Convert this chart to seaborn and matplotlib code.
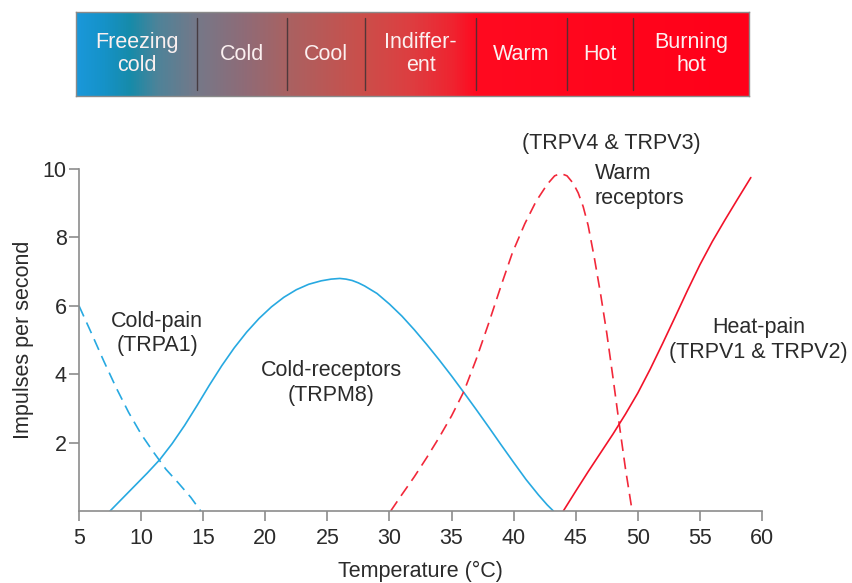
import numpy as np
import pandas as pd
import matplotlib
matplotlib.use("Agg")
import matplotlib.pyplot as plt
from matplotlib.colors import LinearSegmentedColormap
import seaborn as sns

# Thermal sensation bands shown in the strip above the plot
band_labels = ["Freezing\ncold", "Cold", "Cool", "Indiffer-\nent", "Warm", "Hot", "Burning\nhot"]
band_edges = [0.0, 0.18, 0.313, 0.43, 0.594, 0.73, 0.828, 1.0]

# Receptor firing rates (impulses per second) against skin temperature (°C)
cold_pain_temp = [5.0, 6.0, 7.0, 8.0, 9.0, 10.0, 11.0, 12.0, 13.0, 14.0, 14.8]
cold_pain_rate = [6.0, 5.2, 4.38, 3.6, 2.88, 2.25, 1.72, 1.22, 0.82, 0.4, 0.0]

cold_rec_temp = [7.5, 8.5, 9.5, 10.5, 11.5, 12.5, 13.5, 14.5, 15.5, 16.5, 17.5, 18.5,
                 19.5, 20.5, 21.5, 22.5, 23.5, 24.5, 25.3, 26.0, 26.5, 27.0, 27.5,
                 28.0, 29.0, 30.0, 31.0, 32.0, 33.0, 34.0, 35.0, 36.0, 37.0, 38.0,
                 39.0, 40.0, 41.0, 42.0, 42.7, 43.2]
cold_rec_rate = [0.0, 0.37, 0.74, 1.11, 1.5, 1.97, 2.5, 3.08, 3.68, 4.25, 4.77, 5.23,
                 5.63, 5.97, 6.25, 6.47, 6.63, 6.73, 6.78, 6.8, 6.78, 6.74, 6.67,
                 6.58, 6.36, 6.05, 5.7, 5.3, 4.87, 4.42, 3.95, 3.46, 2.96, 2.45,
                 1.93, 1.42, 0.92, 0.47, 0.18, 0.0]

warm_rec_temp = [30.1, 31.0, 32.0, 33.0, 34.0, 35.0, 36.0, 37.0, 38.0, 39.0, 39.9, 40.9,
                 41.8, 42.7, 43.3, 43.8, 44.3, 44.8, 45.2, 45.6, 46.0, 46.5, 47.0,
                 47.5, 48.0, 48.5, 49.0, 49.5]
warm_rec_rate = [0.0, 0.48, 1.0, 1.56, 2.15, 2.78, 3.5, 4.45, 5.5, 6.6, 7.55, 8.4,
                 9.05, 9.55, 9.8, 9.87, 9.8, 9.58, 9.3, 8.9, 8.35, 7.4, 6.35,
                 5.2, 3.9, 2.55, 1.25, 0.1]

heat_pain_temp = [44.0, 45.0, 46.0, 47.0, 48.0, 49.0, 50.0, 51.0, 52.0, 53.0, 54.0,
                  55.0, 56.0, 57.0, 58.0, 59.1]
heat_pain_rate = [0.0, 0.58, 1.15, 1.7, 2.25, 2.83, 3.45, 4.15, 4.9, 5.67, 6.45,
                  7.2, 7.88, 8.5, 9.1, 9.75]

x_ticks = [5, 10, 15, 20, 25, 30, 35, 40, 45, 50, 55, 60]
y_ticks = [2, 4, 6, 8, 10]

BLUE = "#27a9e1"
RED_DASH = "#f2283a"
RED = "#f2132a"
TEXT = "#2b2b2b"
AXIS = "#8c8c8c"
FS = 15.5

sns.set_style("ticks")
plt.rcParams["font.family"] = ["Liberation Sans", "DejaVu Sans"]
plt.rcParams["font.size"] = FS

fig = plt.figure(figsize=(8.52, 5.83), dpi=100)

# ---- colour strip ----
bar_ax = fig.add_axes([76 / 852, 1 - 96 / 583, (749 - 76) / 852, (96 - 12) / 583])
strip_cmap = LinearSegmentedColormap.from_list(
    "thermal",
    [(0.0, "#1a98da"), (0.04, "#1592c8"), (0.08, "#178ba9"), (0.12, "#4e8399"),
     (0.18, "#767888"), (0.25, "#8f6b77"), (0.313, "#a96262"), (0.43, "#cc4e4a"),
     (0.5, "#de3d40"), (0.56, "#ef2430"), (0.594, "#ff0a20"), (1.0, "#ff0019")])
gradient = np.linspace(0, 1, 512).reshape(1, -1)
bar_ax.imshow(gradient, cmap=strip_cmap, aspect="auto", extent=[0, 1, 0, 1])
bar_ax.set_xlim(0, 1)
bar_ax.set_ylim(0, 1)
bar_ax.set_xticks([])
bar_ax.set_yticks([])
for s in bar_ax.spines.values():
    s.set_color("#8a8a8a")
    s.set_linewidth(1.0)
for edge in band_edges[1:-1]:
    bar_ax.plot([edge, edge], [0.07, 0.93], color="#3e3236", lw=1.0, alpha=0.85)
for lab, lo, hi in zip(band_labels, band_edges[:-1], band_edges[1:]):
    bar_ax.text((lo + hi) / 2, 0.5, lab, ha="center", va="center", color="#fbf0f0",
                fontsize=FS, linespacing=1.1)

# ---- receptor curves ----
ax = fig.add_axes([79 / 852, 1 - 511 / 583, (762 - 79) / 852, (511 - 169) / 583])

curves = [
    (cold_pain_temp, cold_pain_rate, BLUE, (7, 4)),
    (cold_rec_temp, cold_rec_rate, BLUE, None),
    (warm_rec_temp, warm_rec_rate, RED_DASH, (7, 4)),
    (heat_pain_temp, heat_pain_rate, RED, None),
]
for temps, rates, col, dash in curves:
    df = pd.DataFrame({"temp": temps, "rate": rates})
    line_ax = sns.lineplot(data=df, x="temp", y="rate", ax=ax, color=col, lw=1.2,
                           sort=False, estimator=None)
    if dash is not None:
        line_ax.lines[-1].set_dashes(dash)

ax.set_xlim(5, 60)
ax.set_ylim(0, 10)
ax.set_xticks(x_ticks)
ax.set_yticks(y_ticks)
sns.despine(ax=ax)
for side in ("left", "bottom"):
    ax.spines[side].set_color(AXIS)
    ax.spines[side].set_linewidth(1.2)
ax.tick_params(axis="both", colors=AXIS, labelcolor=TEXT, labelsize=FS, length=7, width=1.2)
ax.tick_params(axis="x", pad=5)
ax.tick_params(axis="y", pad=2)
ax.set_xlabel("Temperature (°C)", color=TEXT, fontsize=FS, labelpad=9)
ax.set_ylabel("Impulses per second", color=TEXT, fontsize=FS, labelpad=6)

ax.text(11.3, 5.2, "Cold-pain\n(TRPA1)", ha="center", va="center", color=TEXT, fontsize=FS)
ax.text(25.3, 3.74, "Cold-receptors\n(TRPM8)", ha="center", va="center", color=TEXT, fontsize=FS)
ax.text(47.9, 10.76, "(TRPV4 & TRPV3)", ha="center", va="center", color=TEXT, fontsize=FS,
        clip_on=False)
ax.text(46.55, 9.5, "Warm\nreceptors", ha="left", va="center", color=TEXT, fontsize=FS)
ax.text(59.7, 5.0, "Heat-pain\n(TRPV1 & TRPV2)", ha="center", va="center", color=TEXT,
        fontsize=FS, clip_on=False)

fig.savefig("out.png", dpi=100)
